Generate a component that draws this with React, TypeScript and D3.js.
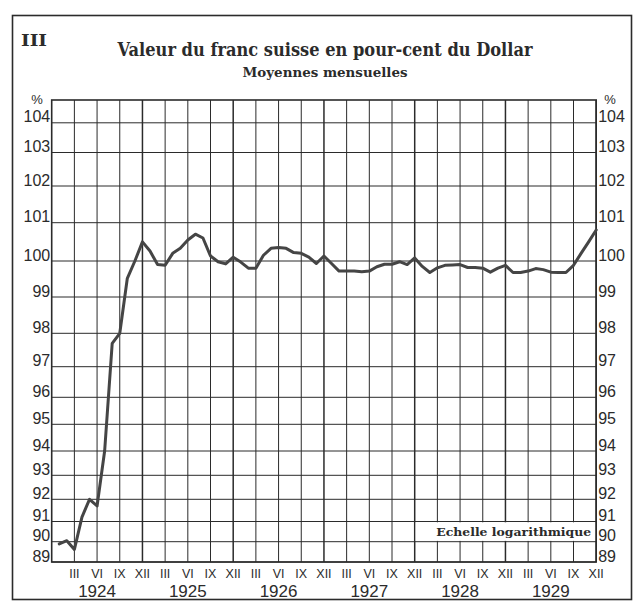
import React from "react";
import * as d3 from "d3";

// ---- data ----
const years = ["1924", "1925", "1926", "1927", "1928", "1929"];
const quarterLabels = ["III", "VI", "IX", "XII"];
const yTicks = [89, 90, 91, 92, 93, 94, 95, 96, 97, 98, 99, 100, 101, 102, 103, 104];
// monthly averages, Jan 1924 .. Dec 1929
const v1924 = [89.89, 90.05, 89.62, 91.2, 92.0, 91.7, 94.0, 97.7, 98.0, 99.52, 100.0, 100.5];
const v1925 = [100.26, 99.9, 99.88, 100.2, 100.33, 100.55, 100.7, 100.6, 100.13, 99.98, 99.92, 100.1];
const v1926 = [99.97, 99.8, 99.8, 100.15, 100.33, 100.35, 100.33, 100.22, 100.2, 100.1, 99.93, 100.13];
const v1927 = [99.93, 99.72, 99.72, 99.72, 99.7, 99.72, 99.84, 99.91, 99.91, 99.98, 99.9, 100.08];
const v1928 = [99.85, 99.68, 99.81, 99.88, 99.89, 99.9, 99.82, 99.82, 99.8, 99.69, 99.8, 99.88];
const v1929 = [99.68, 99.68, 99.72, 99.79, 99.76, 99.69, 99.68, 99.68, 99.88, 100.2, 100.5, 100.81];
const values = [...v1924, ...v1925, ...v1926, ...v1927, ...v1928, ...v1929];

// ---- layout ----
const W = 640, H = 604;
const left = 51.7, right = 596.2, plotTop = 100, plotBottom = 562;
// printed grid of the original (its "logarithmic" ruling), pixel rows for yTicks
const gridRows = [562, 541.7, 521.5, 499.3, 475.3, 451, 424.3, 397.3, 366.7, 333.3, 297, 261, 222.7, 186, 152.5, 122.8];

const ink = "#2b2b2b";
const serif = "'DejaVu Serif', serif";
const sans = "'Liberation Sans Narrow', 'Liberation Sans', Arial, sans-serif";

export default function App() {
  const nMonths = values.length;
  const x = d3.scaleLinear().domain([0, nMonths]).range([left, right]);
  const y = d3.scaleLinear().domain(yTicks).range(gridRows);
  const line = d3
    .line<number>()
    .x((_, i) => x(i + 1))
    .y((d) => y(d));

  const quarters = d3.range(1, nMonths / 3 + 1); // 1..24
  const boxLeft = x(48); // XII 1927
  const boxTop = y(91), boxBottom = y(90);

  return (
    <svg
      width={W}
      height={H}
      viewBox={`0 0 ${W} ${H}`}
      style={{ position: "absolute", left: 0, top: 0, background: "#fff" }}
    >
      <rect x={0} y={0} width={W} height={H} fill="#fff" />
      {/* outer frame */}
      <rect x={12.5} y={15.5} width={619} height={584} fill="none" stroke={ink} strokeWidth={1.6} />

      {/* titles */}
      <text x={21} y={46} fontFamily={serif} fontWeight="bold" fontSize={17} fill={ink}
        textLength={26} lengthAdjust="spacingAndGlyphs">III</text>
      <text x={325} y={56} textAnchor="middle" fontFamily={serif} fontWeight="bold" fontSize={18}
        textLength={415} lengthAdjust="spacingAndGlyphs" fill={ink}>
        Valeur du franc suisse en pour-cent du Dollar
      </text>
      <text x={325} y={77} textAnchor="middle" fontFamily={serif} fontWeight="bold" fontSize={12.5}
        textLength={165} lengthAdjust="spacingAndGlyphs" fill={ink}>
        Moyennes mensuelles
      </text>

      {/* horizontal grid */}
      {yTicks.map((t) => (
        <line key={"h" + t} x1={left} x2={right} y1={y(t)} y2={y(t)} stroke={ink} strokeWidth={1} />
      ))}
      {/* vertical grid */}
      {quarters.map((q) => (
        <line key={"v" + q} x1={x(q * 3)} x2={x(q * 3)} y1={plotTop} y2={plotBottom}
          stroke={ink} strokeWidth={q % 4 === 0 ? 1.5 : 1} />
      ))}

      {/* legend box */}
      <rect x={boxLeft + 1} y={boxTop + 0.8} width={right - boxLeft - 2} height={boxBottom - boxTop - 1.6} fill="#fff" />
      <text x={right - 5} y={boxBottom - 6} textAnchor="end" fontFamily={serif} fontWeight="bold" fontSize={11.5}
        textLength={155} lengthAdjust="spacingAndGlyphs" fill={ink}>
        Echelle logarithmique
      </text>

      {/* plot border */}
      <rect x={left} y={plotTop} width={right - left} height={plotBottom - plotTop} fill="none" stroke={ink} strokeWidth={1.6} />

      {/* y tick labels */}
      {yTicks.map((t) => (
        <g key={"l" + t} fontFamily={sans} fontSize={16} fill={ink}>
          <text x={left - 1.5} y={y(t) - 0.5} textAnchor="end">{t}</text>
          <text x={right + 2} y={y(t) - 0.5} textAnchor="start">{t}</text>
        </g>
      ))}
      <text x={37} y={104} textAnchor="middle" fontFamily={sans} fontSize={13} fill={ink}>%</text>
      <text x={610} y={104} textAnchor="middle" fontFamily={sans} fontSize={13} fill={ink}>%</text>

      {/* x labels */}
      {quarters.map((q) => (
        <text key={"q" + q} x={x(q * 3)} y={578} textAnchor="middle" fontFamily={sans} fontSize={12.5} fill={ink}>
          {quarterLabels[(q - 1) % 4]}
        </text>
      ))}
      {years.map((yr, i) => (
        <text key={yr} x={x(i * 12 + 6)} y={597} textAnchor="middle" fontFamily={sans} fontSize={17} fill={ink}>
          {yr}
        </text>
      ))}

      {/* series */}
      <path d={line(values) || ""} fill="none" stroke="#454545" strokeWidth={3} strokeLinejoin="round" strokeLinecap="round" />
    </svg>
  );
}
